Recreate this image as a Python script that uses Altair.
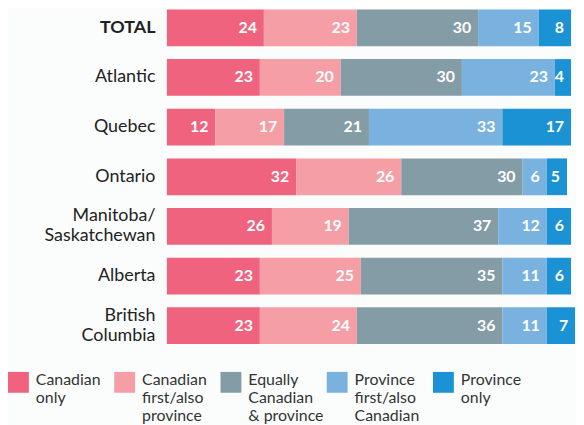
import altair as alt
import pandas as pd

regions = ["TOTAL", "Atlantic", "Quebec", "Ontario", "Manitoba/\nSaskatchewan", "Alberta", "British\nColumbia"]
series = ["Canadian|only", "Canadian|first/also|province", "Equally|Canadian|& province",
          "Province|first/also|Canadian", "Province|only"]
colors = ["#EF637E", "#F59EA6", "#849CA6", "#7AB2DF", "#1B92D3"]

canadian_only = [24, 23, 12, 32, 26, 23, 23]
canadian_first = [23, 20, 17, 26, 19, 25, 24]
equally = [30, 30, 21, 30, 37, 35, 36]
province_first = [15, 23, 33, 6, 12, 11, 11]
province_only = [8, 4, 17, 5, 6, 6, 7]

cols = [canadian_only, canadian_first, equally, province_first, province_only]
rows = []
for si, (s, vals) in enumerate(zip(series, cols)):
    for r, v in zip(regions, vals):
        rows.append({"region": r, "series": s, "order": si, "value": v})
df = pd.DataFrame(rows)
legend_df = pd.DataFrame({"series": series})

FONT = "Lato"
color_scale = alt.Scale(domain=series, range=colors)

base = alt.Chart(df).transform_stack(
    stack="value", groupby=["region"], as_=["x0", "x1"], sort=[alt.SortField("order")]
)

y_enc = alt.Y(
    "region:N",
    sort=regions,
    title=None,
    scale=alt.Scale(paddingInner=0.26, paddingOuter=0),
    axis=alt.Axis(
        ticks=False, domain=False, labelPadding=12, labelFontSize=18, labelFont=FONT,
        labelColor="#222222", labelLineHeight=20, minExtent=160, maxExtent=160,
        labelExpr="split(datum.label, '\\n')",
        labelOffset={"condition": {"test": "indexof(datum.value, '\\n') >= 0", "value": -10}, "value": 0},
        labelFontWeight={"condition": {"test": "datum.value == 'TOTAL'", "value": "bold"}, "value": "normal"},
    ),
)

x_scale = alt.Scale(domain=[0, 100], nice=False, zero=True)

bars = base.mark_bar().encode(
    x=alt.X("x0:Q", scale=x_scale, axis=None),
    x2="x1:Q",
    y=y_enc,
    color=alt.Color("series:N", scale=color_scale, legend=None),
)

labels = base.mark_text(
    align="right", baseline="middle", dx=-7, color="white", font=FONT,
    fontSize=16, fontWeight="bold",
).encode(
    x=alt.X("x1:Q", scale=x_scale, axis=None),
    y=alt.Y("region:N", sort=regions),
    text="value:Q",
)

top = alt.layer(bars, labels).properties(width=407, height=337)

lx = alt.X("series:N", sort=series, axis=None, bandPosition=0,
           scale=alt.Scale(range=[-160, 375], paddingInner=0, paddingOuter=0, align=0))
leg_sq = alt.Chart(legend_df).mark_square(size=441, opacity=1, xOffset=10.5).encode(
    x=lx, y=alt.value(10.5),
    color=alt.Color("series:N", scale=color_scale, legend=None),
)
leg_tx = alt.Chart(legend_df).mark_text(
    align="left", baseline="top", dx=28, lineBreak="|", lineHeight=18,
    font=FONT, fontSize=16, color="#333333",
).encode(x=lx, y=alt.value(0), text="series:N")
legend = alt.layer(leg_sq, leg_tx).properties(width=407, height=54)

chart = alt.vconcat(top, legend, spacing=28).properties(
    padding=0, background="#fbfdfd"
).configure_view(stroke=None)

chart.save("out.html", embed_options={"renderer": "svg", "actions": False})
